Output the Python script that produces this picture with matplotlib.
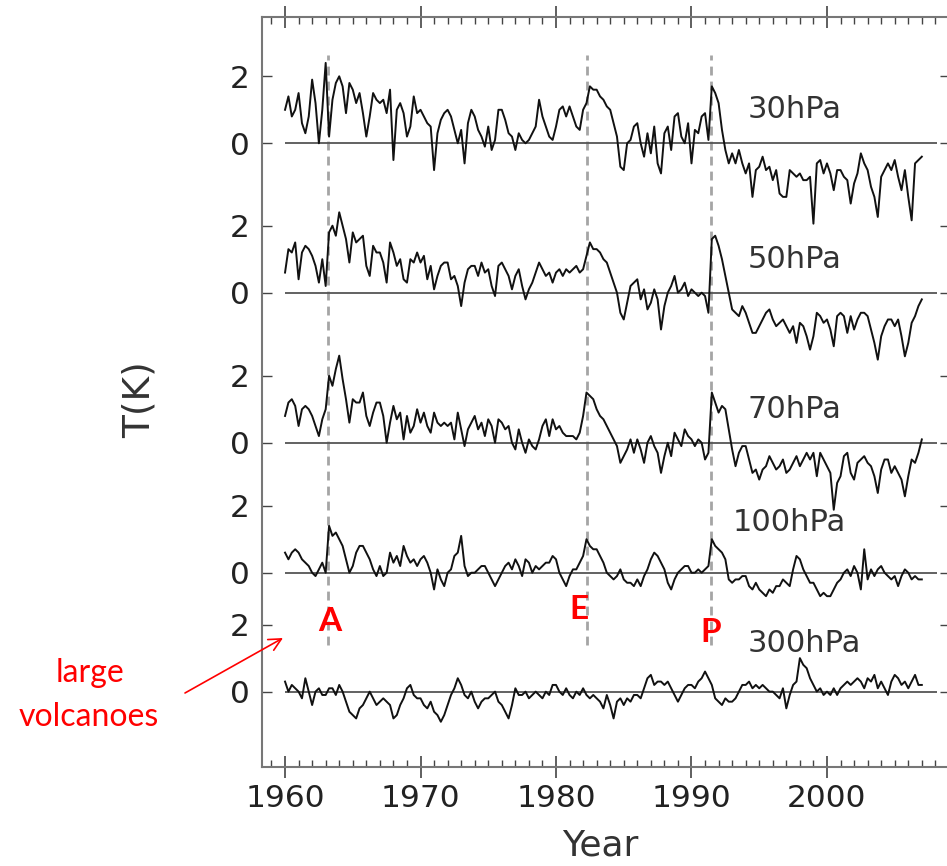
import matplotlib
matplotlib.use("Agg")
import matplotlib.pyplot as plt
import numpy as np
from matplotlib.ticker import MultipleLocator

# quarterly temperature anomalies (K), 1960.0 .. 2007.0
t30 = [
    1.0, 1.4, 0.8, 1.0,
    1.5, 0.6, 0.3, 0.8,
    1.9, 1.2, 0.0, 1.0,
    2.4, 0.2, 1.3, 1.8,
    2.0, 1.7, 0.9, 1.8,
    1.6, 1.2, 1.5, 0.9,
    0.2, 0.8, 1.5, 1.3,
    1.2, 1.3, 0.9, 1.6,
    -0.5, 1.0, 1.2, 0.9,
    0.2, 0.5, 1.4, 0.9,
    1.0, 0.8, 0.6, 0.5,
    -0.8, 0.3, 0.7, 0.9,
    1.0, 0.8, 0.4, 0.0,
    0.4, -0.6, 0.6, 1.0,
    0.8, 0.4, 0.2, -0.1,
    0.5, -0.2, 0.1, 1.0,
    1.0, 0.7, 0.3, 0.2,
    -0.2, 0.3, 0.1, 0.0,
    0.1, 0.3, 0.5, 1.3,
    0.8, 0.5, 0.2, 0.1,
    0.5, 1.0, 1.1, 0.8,
    1.1, 0.8, 0.5, 0.4,
    1.0, 1.2, 1.7, 1.6,
    1.6, 1.4, 1.3, 1.1,
    1.0, 0.6, 0.2, -0.7,
    -0.8, 0.0, 0.1, 0.5,
    0.6, 0.0, -0.4, 0.3,
    -0.3, 0.5, -0.6, -0.9,
    0.3, 0.5, -0.2, 0.8,
    0.9, 0.2, 0.0, 0.6,
    -0.6, 0.4, 0.3, 0.8,
    0.9, 0.1, 1.7, 1.5,
    1.2, 0.4, -0.2, -0.6,
    -0.3, -0.6, -0.2, -0.6,
    -0.9, -0.6, -1.6, -0.8,
    -0.7, -0.4, -0.8, -0.7,
    -1.1, -0.8, -1.5, -1.6,
    -1.6, -0.8, -0.9, -1.0,
    -0.9, -1.1, -1.1, -1.0,
    -2.4, -0.6, -0.5, -0.9,
    -0.6, -0.9, -1.4, -0.8,
    -0.8, -1.0, -1.1, -1.8,
    -1.2, -0.9, -0.3, -0.6,
    -0.8, -1.3, -1.6, -2.2,
    -1.0, -0.8, -0.6, -0.8,
    -0.5, -1.0, -1.4, -0.8,
    -1.6, -2.3, -0.6, -0.5,
    -0.4,
]

t50 = [
    0.6, 1.3, 1.2, 1.5,
    0.4, 1.2, 1.4, 1.3,
    1.1, 0.8, 0.3, 1.0,
    0.2, 1.8, 2.0, 1.7,
    2.4, 2.0, 1.6, 0.9,
    1.8, 1.5, 1.6, 1.7,
    0.8, 0.5, 1.4, 1.2,
    1.2, 0.9, 0.3, 1.5,
    1.2, 0.8, 1.0, 0.4,
    0.3, 1.0, 0.9, 1.2,
    0.9, 1.1, 0.4, 0.8,
    0.1, 0.5, 0.8, 0.9,
    0.9, 0.4, 0.5, 0.2,
    -0.4, 0.3, 0.7, 0.8,
    0.8, 0.5, 0.9, 0.6,
    0.7, 0.2, -0.1, 0.8,
    0.9, 0.7, 0.5, 0.1,
    0.5, 0.7, 0.2, -0.2,
    0.1, 0.3, 0.6, 0.9,
    0.7, 0.5, 0.6, 0.3,
    0.6, 0.7, 0.5, 0.7,
    0.6, 0.7, 0.8, 0.6,
    0.7, 1.1, 1.5, 1.3,
    1.3, 1.2, 1.0, 0.9,
    0.6, 0.3, 0.0, -0.6,
    -0.8, -0.3, 0.2, 0.3,
    0.4, -0.2, 0.1, -0.5,
    -0.3, 0.1, -0.2, -1.1,
    -0.4, 0.0, 0.2, 0.5,
    0.0, 0.1, 0.3, -0.1,
    0.1, 0.0, -0.1, 0.0,
    -0.1, -0.6, 1.6, 1.7,
    1.4, 1.0, 0.5, 0.0,
    -0.5, -0.6, -0.7, -0.4,
    -0.6, -0.9, -1.2, -1.2,
    -1.0, -0.8, -0.6, -0.5,
    -0.8, -1.0, -0.9, -0.8,
    -1.0, -1.2, -1.0, -1.5,
    -0.9, -1.0, -1.3, -1.7,
    -1.3, -0.6, -0.7, -0.9,
    -0.8, -1.1, -1.6, -0.7,
    -0.6, -0.7, -1.2, -0.7,
    -1.1, -0.8, -0.6, -0.6,
    -0.7, -1.1, -1.5, -2.0,
    -1.3, -1.0, -0.8, -0.8,
    -1.0, -0.8, -1.3, -1.9,
    -1.5, -0.9, -0.7, -0.4,
    -0.2,
]

t70 = [
    0.8, 1.2, 1.3, 1.1,
    0.5, 1.0, 1.1, 1.0,
    0.8, 0.5, 0.2, 0.7,
    1.0, 2.0, 1.7, 2.2,
    2.6, 1.9, 1.3, 0.6,
    1.3, 1.2, 1.2, 1.5,
    0.8, 0.5, 0.9, 1.2,
    1.2, 0.8, 0.0, 0.6,
    1.1, 0.7, 0.9, 0.1,
    0.8, 0.3, 0.5, 1.0,
    0.6, 0.9, 0.5, 0.3,
    0.9, 0.6, 0.5, 0.6,
    0.5, 0.6, 0.1, 0.9,
    0.4, -0.1, 0.4, 0.6,
    0.8, 0.4, 0.6, 0.2,
    0.7, 0.5, 0.0, 0.7,
    0.6, 0.4, 0.5, 0.0,
    -0.2, 0.4, 0.0, -0.3,
    0.1, -0.1, -0.2, 0.1,
    0.5, 0.7, 0.2, 0.7,
    0.4, 0.5, 0.3, 0.2,
    0.2, 0.2, 0.1, 0.3,
    0.8, 1.5, 1.4, 1.3,
    1.0, 0.8, 0.7, 0.5,
    0.3, 0.1, -0.1, -0.6,
    -0.4, -0.2, 0.1, -0.3,
    0.1, -0.2, -0.6, 0.0,
    0.2, -0.1, -0.3, -0.9,
    -0.4, 0.0, -0.4, 0.3,
    0.1, -0.1, 0.4, 0.2,
    0.1, -0.1, 0.1, 0.0,
    -0.5, -0.3, 1.5, 1.2,
    0.9, 1.1, 1.0, 0.4,
    -0.2, -0.7, -0.3, -0.1,
    -0.1, -0.5, -0.9, -0.8,
    -1.1, -0.8, -0.7, -0.4,
    -0.6, -0.8, -0.7, -0.5,
    -0.9, -0.8, -0.6, -0.4,
    -0.7, -0.5, -0.3, -0.5,
    -0.3, -1.0, -0.3, -0.5,
    -0.7, -0.9, -2.0, -1.2,
    -1.0, -0.4, -0.3, -0.9,
    -1.1, -0.6, -0.5, -0.4,
    -0.6, -0.7, -1.0, -1.5,
    -0.8, -0.5, -0.5, -0.9,
    -0.7, -0.9, -1.1, -1.6,
    -1.0, -0.5, -0.6, -0.3,
    0.1,
]

t100 = [
    0.6, 0.4, 0.6, 0.7,
    0.6, 0.4, 0.3, 0.2,
    0.0, -0.1, 0.1, 0.3,
    0.0, 1.4, 1.1, 1.2,
    1.0, 0.8, 0.4, 0.0,
    0.2, 0.6, 0.8, 0.8,
    0.6, 0.4, 0.1, -0.1,
    0.2, -0.1, 0.0, 0.6,
    0.3, 0.5, 0.2, 0.8,
    0.5, 0.3, 0.4, 0.2,
    0.4, 0.5, 0.3, 0.0,
    -0.5, 0.1, -0.2, -0.4,
    0.0, 0.1, 0.5, 0.6,
    1.1, 0.2, -0.1, 0.0,
    0.0, 0.1, 0.2, 0.2,
    0.0, -0.2, -0.4, -0.2,
    0.0, 0.2, 0.3, 0.1,
    0.4, 0.2, -0.1, 0.4,
    0.3, 0.0, 0.2, 0.1,
    0.2, 0.3, 0.3, 0.5,
    0.4, 0.0, -0.2, -0.4,
    -0.1, 0.1, 0.1, 0.3,
    0.5, 1.0, 0.8, 0.7,
    0.7, 0.5, 0.3, 0.0,
    -0.1, -0.2, -0.1, 0.1,
    -0.2, -0.3, -0.3, -0.4,
    -0.2, -0.4, -0.1, 0.1,
    0.4, 0.6, 0.5, 0.3,
    0.1, -0.3, -0.5, -0.2,
    0.0, 0.1, 0.2, 0.2,
    0.0, 0.0, 0.1, 0.0,
    0.1, 0.2, 1.0, 0.8,
    0.7, 0.6, 0.4, -0.2,
    -0.3, -0.2, -0.2, -0.1,
    -0.1, -0.4, -0.5, -0.3,
    -0.5, -0.6, -0.7, -0.5,
    -0.6, -0.4, -0.4, -0.2,
    -0.3, -0.4, 0.1, 0.5,
    0.4, 0.1, -0.1, -0.3,
    -0.3, -0.5, -0.7, -0.6,
    -0.7, -0.7, -0.5, -0.3,
    -0.2, 0.0, 0.1, -0.1,
    0.2, 0.0, -0.5, 0.7,
    -0.2, 0.1, -0.1, 0.1,
    0.2, 0.0, -0.1, -0.2,
    -0.1, -0.4, -0.1, 0.1,
    0.0, -0.2, -0.1, -0.2,
    -0.2,
]

t300 = [
    0.3, 0.0, 0.2, 0.1,
    0.0, -0.2, 0.4, 0.0,
    -0.4, 0.0, 0.1, -0.1,
    -0.1, 0.1, 0.1, -0.1,
    0.2, 0.0, -0.3, -0.6,
    -0.7, -0.8, -0.5, -0.4,
    -0.2, 0.0, -0.2, -0.4,
    -0.3, -0.2, -0.3, -0.4,
    -0.8, -0.7, -0.4, -0.2,
    0.1, 0.2, -0.1, -0.2,
    -0.2, -0.4, -0.5, -0.3,
    -0.6, -0.7, -0.9, -0.7,
    -0.4, -0.1, 0.1, 0.4,
    0.2, -0.1, -0.2, 0.0,
    -0.3, -0.5, -0.3, -0.2,
    -0.2, -0.1, 0.0, -0.3,
    -0.4, -0.6, -0.8, -0.4,
    0.1, -0.1, -0.1, 0.0,
    -0.2, -0.1, 0.0, -0.1,
    -0.2, 0.0, -0.1, 0.2,
    0.2, 0.0, -0.1, 0.1,
    -0.1, -0.2, 0.0, -0.1,
    0.1, -0.1, -0.2, -0.1,
    -0.2, -0.3, -0.5, -0.1,
    -0.4, -0.8, -0.3, -0.2,
    -0.4, -0.2, -0.3, -0.1,
    -0.1, -0.2, 0.1, 0.4,
    0.5, 0.2, 0.3, 0.3,
    0.2, 0.3, 0.1, -0.1,
    -0.3, -0.1, 0.1, 0.2,
    0.2, 0.1, 0.3, 0.4,
    0.6, 0.4, 0.2, -0.2,
    -0.3, -0.4, -0.2, -0.3,
    -0.3, -0.2, 0.0, 0.2,
    0.2, 0.3, 0.1, 0.2,
    0.1, 0.2, 0.1, 0.0,
    0.0, -0.1, -0.2, 0.1,
    -0.5, -0.1, 0.2, 0.3,
    1.0, 0.8, 0.7, 0.4,
    0.2, 0.0, 0.1, -0.1,
    0.0, -0.1, 0.1, -0.1,
    0.1, 0.2, 0.3, 0.2,
    0.3, 0.4, 0.3, 0.1,
    0.4, 0.3, 0.5, 0.1,
    0.3, 0.1, -0.1, 0.3,
    0.5, 0.4, 0.2, 0.3,
    0.1, 0.3, 0.5, 0.2,
    0.2,
]

levels = ["30hPa", "50hPa", "70hPa", "100hPa", "300hPa"]
series = [t30, t50, t70, t100, t300]
volcano_years = [1963.2, 1982.3, 1991.45]
volcano_names = ["A", "E", "P"]
year_ticks = [1960, 1970, 1980, 1990, 2000]

# vertical stacking of the panels (K)
offsets = [16.37, 11.91, 7.43, 3.55, 0.0]
label_pos = [(1994.17, 17.39), (1994.17, 12.89), (1994.17, 8.41),
             (1993.06, 5.04), (1994.17, 1.45)]
letter_pos = [(1963.3, 2.08), (1981.7, 2.44), (1991.4, 1.78)]

W, H = 947, 866
fig = plt.figure(figsize=(W / 100, H / 100), dpi=100)
ax = fig.add_axes([262 / W, 1 - 767 / H, 688 / W, 750 / H])

years = 1960 + 0.25 * np.arange(len(t30))

for vals, off in zip(series, offsets):
    ax.hlines(off, 1960, 2008.1, color="#555555", lw=1.3, zorder=2)
    ax.plot(years, np.asarray(vals) + off, color="#111111", lw=1.4, zorder=3)

ax.vlines(volcano_years, 1.39, 19.0, colors="#a5a5a5", lw=2.0,
          linestyles=(0, (3.2, 2.2)), zorder=1)

for name, (x, y) in zip(levels, label_pos):
    ax.text(x, y, name, fontsize=22, color="#333333", ha="left", va="center")

for name, (x, y) in zip(volcano_names, letter_pos):
    ax.text(x, y, name, fontsize=24, color="red", fontweight="bold",
            ha="center", va="center", family=["Lato", "DejaVu Sans"])

ax.set_xlim(1958.30, 2009.08)
ax.set_ylim(-2.25, 20.14)

ax.set_xticks(year_ticks)
ax.set_xticklabels([str(y) for y in year_ticks])
ax.xaxis.set_minor_locator(MultipleLocator(1))
ax.tick_params(axis="x", which="major", direction="inout", length=16,
               width=1.2, top=True, bottom=True, labelsize=22.5, pad=4,
               color="#444444", labelcolor="#222222")
ax.tick_params(axis="x", which="minor", direction="in", length=5,
               width=1.0, top=True, bottom=True, color="#444444")

yt = []
for off in offsets:
    yt += [off, off + 2]
ax.set_yticks(yt)
ax.set_yticklabels(["0", "2"] * len(offsets))
ax.tick_params(axis="y", direction="in", length=7, width=1.0, left=True,
               right=True, labelsize=22.5, pad=9, color="#444444",
               labelcolor="#222222")

for sp in ax.spines.values():
    sp.set_color("#777777")
    sp.set_linewidth(1.5)

fig.text(140 / W, 1 - 400 / H, "T(K)", rotation=90, fontsize=27,
         color="#333333", ha="center", va="center")
fig.text(600 / W, 1 - 845 / H, "Year", fontsize=26, color="#333333",
         ha="center", va="center")

# annotation for the eruptions
fig.text(90 / W, 1 - 673 / H, "large", fontsize=23, color="red",
         ha="center", va="center", family=["Lato", "DejaVu Sans"])
fig.text(89 / W, 1 - 717 / H, "volcanoes", fontsize=23, color="red",
         ha="center", va="center", family=["Lato", "DejaVu Sans"])
ax.annotate("", xy=(283 / W, 1 - 638 / H), xytext=(185 / W, 1 - 693 / H),
            xycoords="figure fraction", textcoords="figure fraction",
            arrowprops=dict(arrowstyle="->", color="red", lw=1.2,
                            mutation_scale=22, shrinkA=0, shrinkB=0))

fig.savefig("out.png", dpi=100)
